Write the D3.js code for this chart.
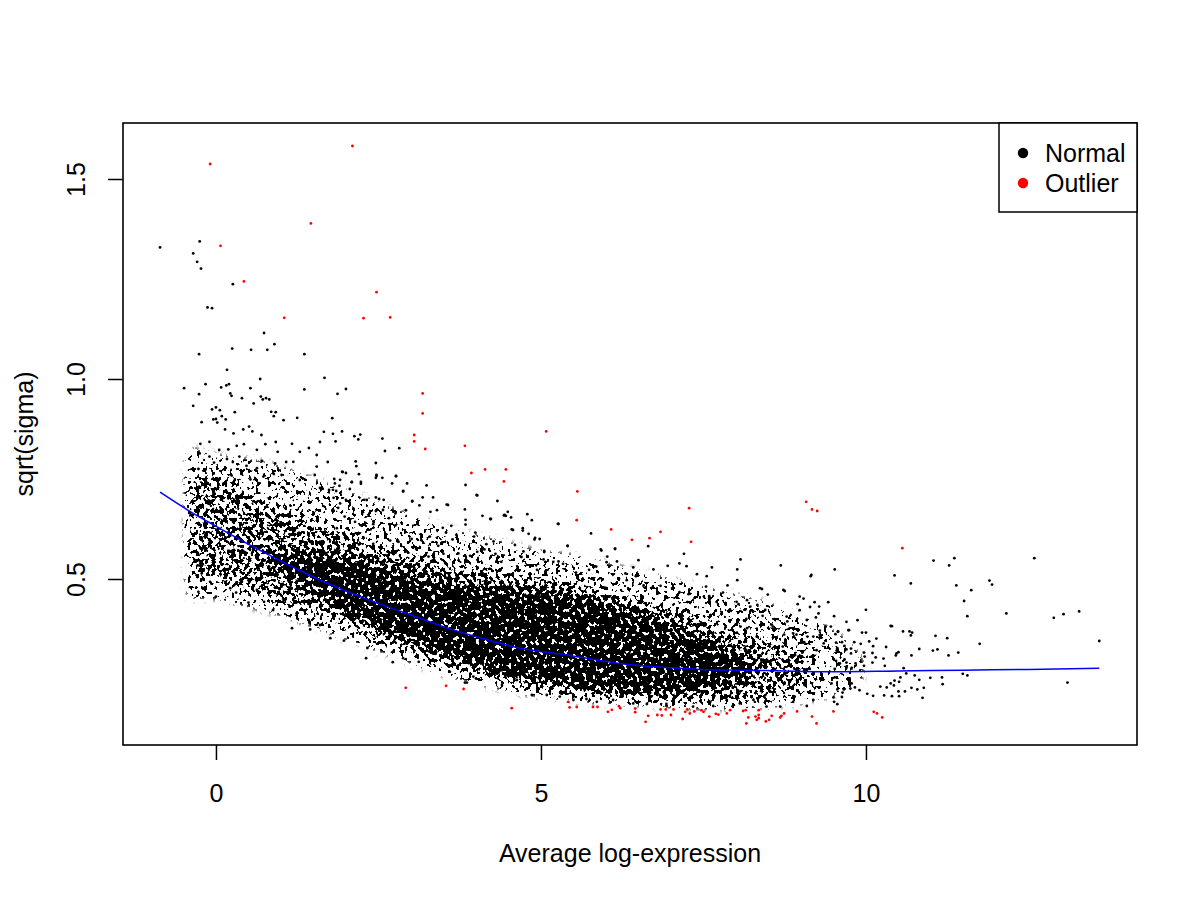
<!DOCTYPE html>
<html>
<head>
<meta charset="utf-8">
<script src="https://cdn.jsdelivr.net/npm/d3@7"></script>
<style>
  body { margin: 0; background: #fff; }
  svg text { font-family: "Liberation Sans", Arial, Helvetica, sans-serif; }
</style>
</head>
<body>
<div id="chart"></div>
<script>
// ---- values ----
var xTicks = [0, 5, 10];
var yTicks = [0.5, 1.0, 1.5];
var xTitle = "Average log-expression";
var yTitle = "sqrt(sigma)";
var legendLabels = ["Normal", "Outlier"];
var legendColors = ["#000000", "#FF0000"];

// fitted prior trend (blue line)
var fitX = [-0.86, -0.37, 0, 0.57, 1.0, 1.6, 2.0, 2.63, 3.0, 3.65, 4.0, 4.68, 5.4, 6.0, 6.42, 7.0, 7.45, 8.0, 8.47, 9.5, 10.5, 11.5, 12.5, 13.59];
var fitY = [0.717, 0.666, 0.632, 0.581, 0.545, 0.4975, 0.47, 0.431, 0.41, 0.3725, 0.356, 0.327, 0.31, 0.294, 0.285, 0.278, 0.274, 0.272, 0.271, 0.268, 0.27, 0.272, 0.274, 0.277];

// extent of the dense cloud of genes, three density levels
var lightX  = [-0.4, 0, 0.5, 1, 1.5, 2, 2.5, 3, 3.5, 4, 4.5, 5, 5.5, 6, 6.5, 7, 7.5, 8, 8.5, 9, 9.5, 9.9];
var lightHi = [0.82, 0.80, 0.79, 0.77, 0.74, 0.71, 0.68, 0.65, 0.62, 0.60, 0.58, 0.56, 0.55, 0.53, 0.51, 0.49, 0.47, 0.45, 0.43, 0.40, 0.36, 0.30];
var lightLo = [0.46, 0.46, 0.44, 0.42, 0.39, 0.36, 0.33, 0.30, 0.27, 0.25, 0.23, 0.215, 0.205, 0.20, 0.195, 0.19, 0.185, 0.185, 0.19, 0.20, 0.22, 0.25];

var midX  = [-0.38, 0, 0.5, 1, 1.5, 2, 2.5, 3, 3.5, 4, 4.5, 5, 5.5, 6, 6.5, 7, 7.5, 8, 8.5, 9, 9.2];
var midHi = [0.76, 0.75, 0.71, 0.67, 0.64, 0.61, 0.585, 0.56, 0.54, 0.525, 0.51, 0.50, 0.485, 0.465, 0.445, 0.425, 0.40, 0.37, 0.34, 0.31, 0.28];
var midLo = [0.50, 0.50, 0.47, 0.44, 0.42, 0.39, 0.355, 0.32, 0.29, 0.265, 0.245, 0.23, 0.215, 0.21, 0.205, 0.20, 0.20, 0.20, 0.21, 0.23, 0.25];

var coreX  = [0.8, 1.5, 2, 2.5, 3, 3.5, 4, 4.5, 5, 5.5, 6, 6.5, 7, 7.5, 8, 8.4];
var coreHi = [0.56, 0.565, 0.55, 0.53, 0.51, 0.49, 0.48, 0.475, 0.47, 0.46, 0.44, 0.415, 0.385, 0.35, 0.31, 0.28];
var coreLo = [0.54, 0.47, 0.42, 0.38, 0.345, 0.31, 0.285, 0.26, 0.245, 0.235, 0.22, 0.215, 0.215, 0.225, 0.25, 0.275];

// individual genes outside the dense cloud
var normalPts = [
  [-0.86,1.329],[-0.25,1.344],[-0.35,1.314],[-0.29,1.293],[-0.23,1.276],[0.26,1.237],[-0.13,1.179],[-0.06,1.177],
  [0.74,1.115],[0.90,1.087],[1.36,1.062],[-0.26,1.062],[0.25,1.076],[0.54,1.073],[0.79,1.073],[0.17,1.023],
  [0.68,1.0],[1.67,1.003],[-0.49,0.977],[-0.16,0.987],[-0.26,0.962],[0.08,0.979],[0.16,0.984],[0.20,0.987],
  [0.53,0.977],[1.36,0.974],[2.00,0.975],[1.87,0.963],[0.22,0.964],[0.24,0.958],[0.40,0.952],[0.69,0.956],
  [0.72,0.949],[0.77,0.952],[0.82,0.949],[-0.35,0.933],[0.58,0.939],[-0.06,0.924],[0.00,0.929],[0.06,0.922],
  [0.09,0.907],[0.29,0.917],[0.85,0.918],[0.92,0.917],[0.89,0.907],[1.25,0.903],[1.79,0.902],[0.00,0.90],
  [0.15,0.899],[1.04,0.897],[-0.22,0.892],[-0.04,0.899],[0.02,0.891],[0.14,0.874],[0.27,0.864],[0.42,0.874],
  [0.51,0.881],[0.56,0.869],[0.70,0.86],[1.66,0.868],[1.80,0.863],[1.94,0.869],[1.84,0.844],[2.13,0.857],
  [2.22,0.861],[2.19,0.849],[2.56,0.851],[2.82,0.827],[2.60,0.82],[-0.24,0.838],[-0.10,0.843],[0.05,0.8225],
  [0.19,0.824],[0.32,0.833],[0.43,0.837],[0.63,0.823],[0.76,0.837],[0.92,0.8425],[0.95,0.818],[1.17,0.838],
  [1.29,0.818],[1.43,0.8275],[1.55,0.81],[1.60,0.8425],[1.72,0.7925],[-0.25,0.814],[-0.10,0.806],[-0.03,0.791],
  [0.17,0.80],[0.26,0.7925],[0.36,0.806],[0.47,0.783],[0.63,0.777],[0.71,0.795],[0.91,0.789],[1.08,0.7925],
  [1.19,0.793],[1.55,0.781],[-0.27,0.775],[0.24,0.759],[0.29,0.7475],[0.53,0.749],[0.73,0.756],[0.89,0.7625],
  [1.01,0.76],[1.29,0.7475],[1.52,0.76],[1.82,0.75],[1.95,0.7675],[2.09,0.7425],[2.23,0.7425],[2.47,0.7575],
  [2.77,0.7575],[-0.26,0.731],[1.60,0.7275],[1.74,0.7225],[1.85,0.72],[2.32,0.6975],[2.57,0.6725],[2.88,0.72],
  [3.02,0.694],[3.57,0.685],[4.01,0.71],[4.22,0.65],[4.46,0.658],
  [2.15,0.794],[2.16,0.782],[2.46,0.79],[1.94,0.768],[2.00,0.765],[2.20,0.762],[2.47,0.76],[2.77,0.757],
  [2.46,0.753],[2.56,0.753],[1.91,0.748],[1.83,0.739],[2.09,0.742],[2.23,0.738],[2.71,0.739],[2.94,0.739],
  [3.24,0.734],[3.84,0.735],[1.90,0.733],[2.06,0.725],[1.80,0.723],[2.88,0.719],[4.02,0.709],[2.00,0.698],
  [1.81,0.703],[2.28,0.698],[2.46,0.704],[2.51,0.70],[2.58,0.698],[3.02,0.695],[3.18,0.704],[3.34,0.704],
  [4.33,0.695],[1.91,0.689],[1.88,0.678],[3.13,0.684],[3.55,0.686],[3.83,0.674],[2.46,0.67],[2.76,0.664],
  [2.92,0.672],[3.30,0.668],[3.40,0.672],[4.49,0.668],[4.79,0.662],[1.98,0.656],[2.26,0.667],[2.66,0.652],
  [3.84,0.648],[4.10,0.658],[4.23,0.65],[4.43,0.659],[4.54,0.654],[4.86,0.647],[5.26,0.638],[2.14,0.643],
  [1.86,0.627],[2.42,0.637],[2.76,0.634],[3.10,0.637],[3.62,0.633],[3.84,0.636],[5.77,0.614],[4.55,0.624],
  [4.72,0.627],[4.81,0.613],[4.91,0.603],[5.41,0.583],[5.93,0.571],[6.14,0.575],[6.02,0.556],[6.17,0.544],
  [6.30,0.514],[5.05,0.57],[4.73,0.569],[4.60,0.585],[4.27,0.594],[4.16,0.587],[4.13,0.574],[3.97,0.606],
  [3.99,0.616],[3.70,0.61],[3.64,0.599],[3.54,0.616],[3.49,0.628],[3.29,0.606],[3.16,0.597],[3.08,0.575],
  [3.27,0.556],[3.42,0.583],[3.50,0.563],[3.73,0.564],[3.91,0.558],[4.02,0.568],[4.30,0.563],[4.39,0.543],
  [4.70,0.555],[4.94,0.523],[5.04,0.549],[5.19,0.543],[5.27,0.544],[5.34,0.538],[5.54,0.516],[5.74,0.523],
  [5.85,0.531],[6.01,0.542],[3.01,0.60],[2.81,0.593],[2.68,0.596],[2.42,0.588],[2.20,0.586],
  [4.44,0.66],[4.57,0.6225],[4.72,0.621],[4.90,0.599],[4.98,0.60],[5.27,0.6375],[5.41,0.5825],[5.05,0.5675],
  [6.14,0.576],[5.92,0.574],[10.38,0.3825],[10.47,0.314],
  [6.65,0.582],[7.20,0.563],[6.50,0.547],[7.13,0.539],[7.24,0.532],[6.95,0.533],[7.63,0.529],[8.07,0.549],
  [8.02,0.524],[8.69,0.534],[9.15,0.507],[6.42,0.529],[6.73,0.524],[6.46,0.507],[7.40,0.512],[7.55,0.507],
  [8.02,0.497],[6.32,0.497],[6.58,0.484],[6.72,0.479],[6.84,0.483],[7.02,0.477],[7.13,0.467],[7.27,0.462],
  [7.54,0.481],[7.59,0.457],[7.80,0.466],[7.87,0.484],[8.40,0.475],[8.49,0.461],[8.75,0.47],[9.04,0.451],
  [9.42,0.442],[9.21,0.442],[9.28,0.431],[9.14,0.43],[8.95,0.437],[8.98,0.422],[9.27,0.414],[9.23,0.404],
  [9.38,0.381],[9.29,0.371],[9.57,0.368],[9.73,0.372],[9.29,0.36],[9.10,0.356],[9.05,0.342],[9.35,0.339],
  [9.67,0.333],[9.55,0.321],[9.24,0.322],[9.03,0.318],[8.91,0.31],[8.72,0.331],[8.74,0.361],[8.93,0.361],
  [8.55,0.386],[8.41,0.408],[8.33,0.435],[8.14,0.423],[8.04,0.437],[8.17,0.447],[8.16,0.40],[8.07,0.381],
  [8.17,0.377],[8.32,0.356],[8.58,0.374],[8.79,0.394],
  [9.16,0.51],[8.37,0.477],[8.73,0.4725],[8.98,0.456],[8.01,0.443],[8.22,0.431],[8.45,0.4225],[8.78,0.406],
  [9.09,0.3975],[9.19,0.356],[8.88,0.364],[8.57,0.381],
  [3.83,0.241],[3.96,0.256],[4.40,0.235],[4.86,0.21],[5.09,0.21],[5.29,0.206],[5.50,0.1975],[5.70,0.20],
  [5.86,0.193],[6.11,0.1975],[6.42,0.189],[6.63,0.1875],[6.93,0.1875],[7.34,0.181],[7.65,0.1825],[7.86,0.1975],
  [8.06,0.189],[8.27,0.1975],[8.47,0.181],[8.68,0.181],[8.88,0.193],[9.09,0.1825],[9.19,0.1975],
  [-0.28,0.534],[-0.22,0.514],[-0.27,0.468],[-0.09,0.493],[0.00,0.456],[0.14,0.493],[0.22,0.477],[0.31,0.466],
  [0.50,0.441],[0.63,0.4725],[0.74,0.443],[0.88,0.4225],[1.04,0.4475],[1.17,0.377],[1.24,0.414],[1.45,0.374],
  [1.42,0.3975],[1.60,0.385],[1.76,0.352],[1.97,0.346],[2.33,0.3275],[2.31,0.302],[2.72,0.292],[2.88,0.302],
  [3.12,0.293],[3.60,0.268],[3.86,0.241],[4.63,0.2475],
  [9.52,0.524],[11.04,0.546],[11.36,0.552],[11.28,0.534],[12.59,0.552],[10.44,0.509],[10.69,0.489],[11.39,0.484],
  [11.62,0.472],[11.90,0.496],[11.94,0.486],[11.51,0.445],[11.56,0.407],[12.16,0.414],[12.89,0.403],[13.04,0.412],
  [13.28,0.419],[13.59,0.345],[13.10,0.241],[11.75,0.338],[11.25,0.352],[11.42,0.316],[11.27,0.309],[11.07,0.358],
  [11.03,0.321],[11.10,0.324],[10.82,0.325],[10.70,0.309],[10.50,0.317],[10.46,0.309],[10.40,0.382],[10.57,0.369],
  [10.67,0.369],[10.71,0.366],[10.69,0.359],[10.31,0.33],[10.11,0.332],[10.16,0.351],[10.05,0.344],[10.00,0.366],
  [9.94,0.366],[9.87,0.397],[10.0,0.423],[9.70,0.393],[9.51,0.407],[10.15,0.304],[10.27,0.301],[10.29,0.283],
  [10.10,0.291],[9.97,0.283],[9.84,0.289],[9.78,0.278],[9.70,0.278],[9.60,0.289],[10.58,0.277],[10.62,0.264],
  [10.75,0.259],[10.82,0.248],[10.99,0.253],[11.17,0.254],[11.18,0.237],[11.49,0.263],[11.56,0.259],[10.53,0.254],
  [10.44,0.246],[10.51,0.243],[10.38,0.239],[10.32,0.229],[10.22,0.231],[10.43,0.234],[10.50,0.219],[10.60,0.219],
  [10.70,0.228],[10.79,0.224],[10.89,0.228],[10.87,0.203],[10.40,0.207],[10.51,0.207],[10.28,0.209],[10.11,0.208],
  [10.02,0.213],[9.90,0.222],[9.83,0.229],[9.76,0.226],[9.66,0.224],[9.56,0.224],[9.47,0.239],[9.52,0.254],
  [9.75,0.246],[9.78,0.239],[9.64,0.216],[9.63,0.205],[9.50,0.204],[9.51,0.193],[9.56,0.187],[9.98,0.306],
  [10.10,0.315],[9.97,0.316],[9.70,0.291],[9.67,0.299],[9.54,0.295],[9.56,0.327],[9.77,0.314],[9.77,0.326],
  [9.70,0.324],[9.82,0.342],[9.92,0.338],[9.63,0.342],[9.54,0.341],[9.53,0.362],[9.57,0.369],[9.74,0.372],
  [9.46,0.381],[9.52,0.275]
];

// genes flagged as outliers (red)
var outlierPts = [
  [2.10,1.5825],[-0.09,1.5375],[1.46,1.389],[0.07,1.333],[0.43,1.244],[2.47,1.217],[1.05,1.153],[2.27,1.152],
  [2.68,1.154],[3.18,0.964],[3.18,0.914],[3.05,0.86],[3.05,0.844],[3.22,0.825],[3.83,0.833],[3.93,0.765],
  [4.14,0.774],[4.46,0.774],[4.43,0.744],[5.08,0.869],[5.56,0.719],[5.55,0.647],[6.08,0.624],[7.28,0.677],
  [7.31,0.593],[6.84,0.618],[6.67,0.602],[6.40,0.598],[9.08,0.693],[9.17,0.674],[9.25,0.67],[10.56,0.577],
  [2.92,0.228],[3.54,0.233],[3.81,0.225],[4.55,0.177],[5.42,0.193],[5.44,0.179],[5.55,0.18],[5.80,0.18],
  [5.87,0.18],[6.03,0.168],[6.09,0.173],[6.20,0.182],[6.22,0.177],[6.45,0.176],[6.45,0.167],[6.61,0.143],
  [6.65,0.158],[6.79,0.16],[6.84,0.174],[6.86,0.159],[6.92,0.174],[7.00,0.16],[7.04,0.174],[7.18,0.15],
  [7.22,0.168],[7.25,0.174],[7.29,0.164],[7.36,0.169],[7.47,0.172],[7.50,0.168],[7.59,0.156],[7.69,0.163],
  [7.73,0.161],[7.86,0.164],[7.91,0.172],[8.11,0.17],[8.15,0.172],[8.16,0.139],[8.19,0.154],[8.30,0.156],
  [8.32,0.148],[8.35,0.172],[8.35,0.16],[8.35,0.152],[8.46,0.144],[8.51,0.148],[8.55,0.158],[8.68,0.154],
  [8.70,0.158],[8.74,0.164],[8.94,0.169],[9.17,0.156],[9.24,0.139],[9.50,0.169],[10.12,0.168],[10.17,0.164],
  [10.25,0.154]
];

// ---- drawing ----
var width = 1200, height = 900;
var plot = { left: 123, right: 1137, top: 123, bottom: 745 };

var svg = d3.select("#chart")
    .append("svg")
    .attr("width", width)
    .attr("height", height);

svg.append("rect").attr("width", width).attr("height", height).attr("fill", "white");

var x = d3.scaleLinear()
    .domain([-1.43, 14.17])
    .range([plot.left, plot.right]);
var y = d3.scaleLinear()
    .domain([0.085, 1.64])
    .range([plot.bottom, plot.top]);

// The dense part of the cloud holds thousands of overlapping genes.
// Its density bands are blurred into a density map and broken up with a
// grain about one point wide, so it renders as speckle, not a flat fill.
var defs = svg.append("defs");
var speckle = defs.append("filter")
    .attr("id", "speckle")
    .attr("filterUnits", "userSpaceOnUse")
    .attr("x", 0).attr("y", 0).attr("width", width).attr("height", height)
    .attr("color-interpolation-filters", "sRGB");
speckle.append("feGaussianBlur")
    .attr("in", "SourceAlpha").attr("stdDeviation", 5).attr("result", "dens");
speckle.append("feTurbulence")
    .attr("type", "fractalNoise").attr("baseFrequency", "0.25 0.22")
    .attr("numOctaves", 2).attr("seed", 7).attr("result", "noise");
speckle.append("feColorMatrix")
    .attr("in", "noise").attr("type", "matrix")
    .attr("values", "0 0 0 0 0  0 0 0 0 0  0 0 0 0 0  3.5 0 0 0 -1.25")
    .attr("result", "grain");
speckle.append("feComposite")
    .attr("in", "dens").attr("in2", "grain").attr("operator", "arithmetic")
    .attr("k1", 0).attr("k2", 16).attr("k3", 16).attr("k4", -16);

function band(xs, lo, hi) {
    return d3.area()
        .curve(d3.curveCatmullRom)
        .x(i => x(xs[i]))
        .y0(i => y(lo[i]))
        .y1(i => y(hi[i]))(d3.range(xs.length));
}

var cloud = svg.append("g").attr("filter", "url(#speckle)");
cloud.append("path").attr("d", band(lightX, lightLo, lightHi)).attr("fill", "black").attr("fill-opacity", 0.19);
cloud.append("path").attr("d", band(midX, midLo, midHi)).attr("fill", "black").attr("fill-opacity", 0.41);
cloud.append("path").attr("d", band(coreX, coreLo, coreHi)).attr("fill", "black").attr("fill-opacity", 1);

// individual points
var radius = 1.4;
svg.append("g")
    .selectAll("circle")
    .data(normalPts)
    .join("circle")
    .attr("cx", d => x(d[0]))
    .attr("cy", d => y(d[1]))
    .attr("r", radius)
    .attr("fill", "black");

svg.append("g")
    .selectAll("circle")
    .data(outlierPts)
    .join("circle")
    .attr("cx", d => x(d[0]))
    .attr("cy", d => y(d[1]))
    .attr("r", radius)
    .attr("fill", "#FF0000");

// trend line
svg.append("path")
    .datum(d3.range(fitX.length))
    .attr("fill", "none")
    .attr("stroke", "#0000FF")
    .attr("stroke-width", 1.5)
    .attr("d", d3.line().curve(d3.curveMonotoneX).x(i => x(fitX[i])).y(i => y(fitY[i])));

// axes
var xAxis = svg.append("g")
    .attr("transform", `translate(0,${plot.bottom})`)
    .style("font-size", "25px")
    .call(d3.axisBottom(x).tickValues(xTicks).tickSize(15).tickPadding(24).tickFormat(d3.format("d")));
xAxis.select(".domain").remove();
xAxis.selectAll(".tick line").attr("stroke", "black").attr("stroke-width", 1.5);
xAxis.selectAll(".tick text").attr("fill", "black").attr("font-family", "Liberation Sans, Arial, sans-serif");

var yAxis = svg.append("g")
    .attr("transform", `translate(${plot.left},0)`)
    .style("font-size", "25px")
    .call(d3.axisLeft(y).tickValues(yTicks).tickSize(15).tickFormat(d3.format(".1f")));
yAxis.select(".domain").remove();
yAxis.selectAll(".tick line").attr("stroke", "black").attr("stroke-width", 1.5);
yAxis.selectAll(".tick text")
    .attr("fill", "black")
    .attr("font-family", "Liberation Sans, Arial, sans-serif")
    .attr("x", null).attr("dy", null)
    .attr("text-anchor", "middle")
    .attr("transform", "translate(-38,0) rotate(-90)");

// frame
svg.append("rect")
    .attr("x", plot.left).attr("y", plot.top)
    .attr("width", plot.right - plot.left)
    .attr("height", plot.bottom - plot.top)
    .attr("fill", "none")
    .attr("stroke", "black")
    .attr("stroke-width", 1.6);

// titles
svg.append("text")
    .attr("x", (plot.left + plot.right) / 2)
    .attr("y", 862)
    .attr("text-anchor", "middle")
    .style("font-size", "25px")
    .text(xTitle);
var yMid = (plot.top + plot.bottom) / 2;
svg.append("text")
    .attr("transform", `translate(33,${yMid}) rotate(-90)`)
    .attr("text-anchor", "middle")
    .style("font-size", "25px")
    .text(yTitle);

// legend (top right, inside the frame)
var legend = svg.append("g");
legend.append("rect")
    .attr("x", 999).attr("y", plot.top)
    .attr("width", plot.right - 999).attr("height", 89)
    .attr("fill", "white")
    .attr("stroke", "black")
    .attr("stroke-width", 1.5);
var rows = legend.selectAll("g.row")
    .data(legendLabels)
    .join("g")
    .attr("class", "row")
    .attr("transform", (d, i) => `translate(0,${153 + i * 30})`);
rows.append("circle")
    .attr("cx", 1023).attr("cy", 0).attr("r", 5.2)
    .attr("fill", (d, i) => legendColors[i]);
rows.append("text")
    .attr("x", 1045).attr("y", 9)
    .style("font-size", "25px")
    .text(d => d);
</script>
</body>
</html>
